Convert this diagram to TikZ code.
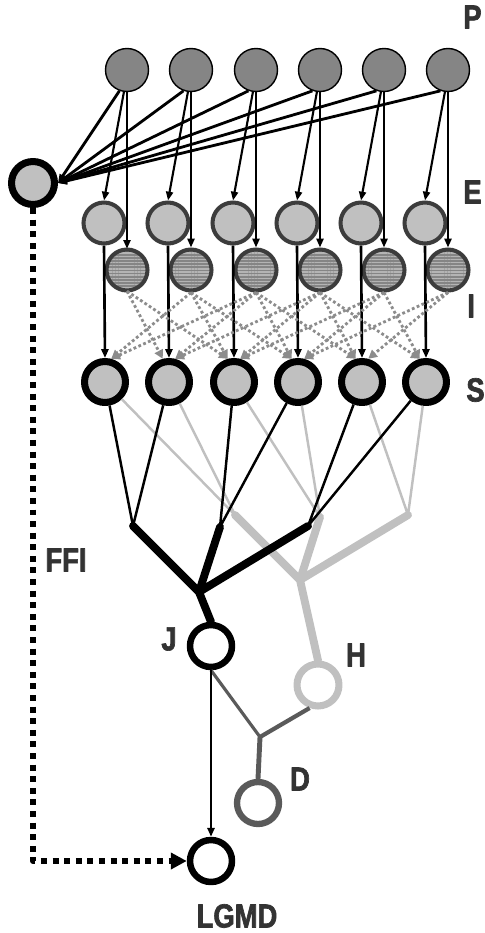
\documentclass[tikz,border=0pt]{standalone}
\usepackage{fontspec}
\newfontfamily\labelfont{Liberation Sans}[FakeStretch=0.82, FakeBold=2]
\usepackage{tikz}
\usetikzlibrary{arrows.meta, patterns.meta, positioning}
\definecolor{colorPre}{HTML}{858585}
\definecolor{colorCell}{HTML}{C0C0C0}
\definecolor{colorStripe}{HTML}{B4B4B4}
\definecolor{colorRim}{HTML}{3C3C3C}
\definecolor{colorInhib}{HTML}{8C8C8C}
\definecolor{colorDcmd}{HTML}{5A5A5A}
\definecolor{colorText}{HTML}{333333}
\tikzset{
  cell/.style={circle, inner sep=0pt},
  pcell/.style={cell, draw=black, line width=0.8pt, fill=colorPre, minimum size=0.86cm},
  ecell/.style={cell, draw=colorRim, line width=2.3pt, fill=colorCell, minimum size=0.82cm},
  icell/.style={cell, draw=colorRim, line width=2.3pt, minimum size=0.82cm, preaction={fill=colorPre},
    pattern={Lines[angle=0, distance=1.8pt, line width=0.8pt]}, pattern color=colorStripe},
  scell/.style={cell, draw=black, line width=4pt, fill=colorCell, minimum size=0.82cm},
  ocell/.style={cell, draw=black, line width=3.7pt, fill=white, minimum size=0.84cm},
  inhib/.style={colorInhib, line width=1.6pt, dash pattern=on 1.6pt off 1.4pt, -{Triangle[length=5pt, width=5pt]}},
  layer/.style={font=\labelfont\bfseries\fontsize{19}{19}\selectfont, text=colorText, inner sep=0pt},
}

\begin{document}
\begin{tikzpicture}[x=0.02cm, y=-0.02cm, >={Triangle[length=5pt, width=4pt]}, line join=round]
\useasboundingbox (0,0) rectangle (484,933);

\foreach \i/\x in {1/127,2/191,3/256,4/320,5/384,6/448} {
  \node[pcell] (p\i) at (\x,70) {};
  \node[ecell] (e\i) at (\x-23,223) {};
  \node[icell] (i\i) at (\x,270) {};
  \node[scell] (s\i) at (\x-22,382) {};
}
\node[scell, minimum size=0.86cm] (ffi) at (33,183) {};
\node[ocell] (j) at (211,646) {};
\node[ocell, draw=colorCell, line width=4pt] (h) at (318,685) {};
\node[ocell, draw=colorDcmd, line width=3.6pt] (d) at (258,803) {};
\node[ocell] (lgmd) at (211,861) {};

\foreach \i in {1,...,6} {
  \draw[->, line width=1.6pt] (p\i.250) -- (ffi.east);
  \draw[->, line width=1.2pt] (p\i.262) -- (e\i.north);
  \draw[->, line width=1.2pt] (p\i.south) -- (i\i.north);
  \draw[->, line width=1.5pt] (e\i.south) -- (s\i.north);
}
\foreach \i in {1,...,6}
  \foreach \d in {-2,-1,1,2} {
    \pgfmathtruncatemacro\j{\i+\d}
    \pgfmathtruncatemacro\ang{\d<0 ? 75 : 105}
    \ifnum\j>0 \ifnum\j<7
      \draw[inhib] (i\i.south) -- (s\j.\ang);
    \fi\fi
  }

\coordinate (a1) at (133,526);
\coordinate (a2) at (220,527);
\coordinate (a3) at (308,526);
\coordinate (b) at (199,592);
\coordinate (g1) at (235,515);
\coordinate (g2) at (320,517);
\coordinate (g3) at (408,515);
\coordinate (g) at (300,580);
\coordinate (db) at (260,737);

% second tree first, the first one crosses over it
\draw[colorCell, line width=1.4pt] (s1) -- (g1) (s2) -- (g1) (s3) -- (g2) (s4) -- (g2) (s5) -- (g3) (s6) -- (g3);
\draw[colorCell, line width=4.5pt, line cap=round] (g1) -- (g) (g2) -- (g) (g3) -- (g) (g) -- (h.north);
\draw[line width=1.4pt] (s1) -- (a1) (s2) -- (a1) (s3) -- (a2) (s4) -- (a2) (s5) -- (a3) (s6) -- (a3);
\draw[line width=4.5pt, line cap=round] (a1) -- (b) (a2) -- (b) (a3) -- (b) (b) -- (j.north);

\draw[colorDcmd, line width=1.8pt] (j.south) -- (db);
\draw[colorDcmd, line width=2.4pt] (h.250) -- (db);
\draw[colorDcmd, line width=2.8pt] (db) -- (d.north);

\draw[->, line width=1.6pt] (j.south) -- (lgmd.north);
\draw[line width=3.4pt, dash pattern=on 3.4pt off 3.2pt, -{Triangle[length=9pt, width=9pt]}] (ffi.south) |- (lgmd.west);

\node[layer, anchor=west] (pl) at (463,17) {P};
\node[layer, anchor=west] (el) at (463,192) {E};
\node[layer, anchor=west] (il) at (467,306) {I};
\node[layer, anchor=west] (sl) at (466,390) {S};
\node[layer] (ffil) at (66,560) {FFI};
\node[layer] (jl) at (169,639) {J};
\node[layer] (hl) at (356,655) {H};
\node[layer] (dl) at (300,779) {D};
\node[layer] (lgmdl) at (237,916) {LGMD};
\end{tikzpicture}
\end{document}
